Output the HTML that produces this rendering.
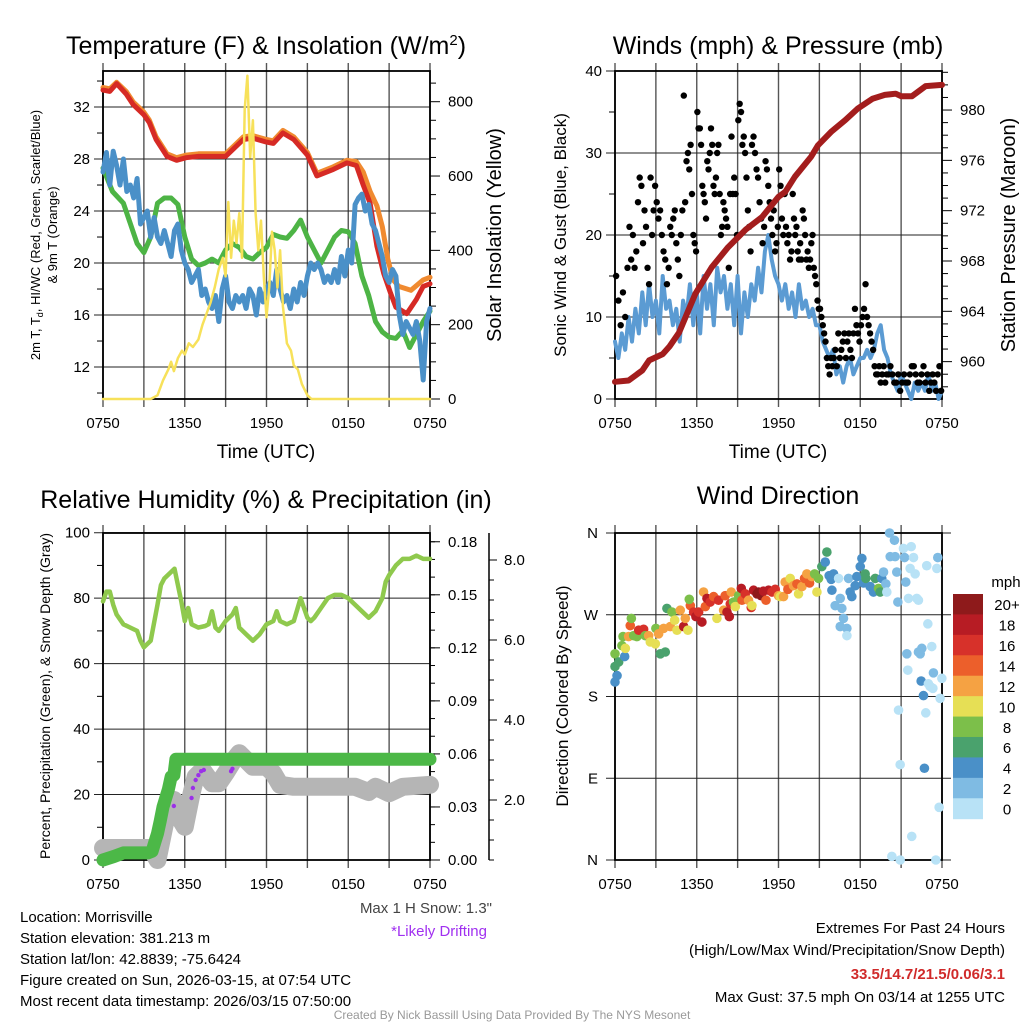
<!DOCTYPE html>
<html><head><meta charset="utf-8"><style>
html,body{margin:0;padding:0;background:#fff;}
svg{display:block;font-family:"Liberation Sans",sans-serif;}
</style></head><body>
<svg id="chart" width="1024" height="1024" viewBox="0 0 1024 1024" xmlns="http://www.w3.org/2000/svg">
<g id="g"></g>
</svg>
<script>
// ---------- DATA ----------
const xTickLabels = ["0750","1350","1950","0150","0750"];
// Panel 1 temperatures (hours since 0750, value F)
const redHours = [0,0.5,1,1.7,2.2,3,3.4,3.9,4.7,5.4,6.1,7,8,9,9.6,10.3,11,12,12.5,13.2,14,15,15.7,16.9,17.9,18.6,19.1,19.6,20.1,20.6,21.1,21.5,22.3,23,23.5,24];
const redTemp  = [33.3,33.2,33.8,33.0,32.2,31.4,30.8,29.5,28.2,27.9,28.1,28.2,28.2,28.2,28.8,29.5,29.6,29.3,29.2,30.0,29.5,28.3,26.7,27.2,27.7,27.5,26.0,24.6,21.3,19.2,17.7,16.6,16.1,17.2,18.2,18.4];
const orangeHours = [0,0.5,1,1.7,2.2,3,3.4,3.9,4.7,5.4,6.1,7,8,9,9.6,10.3,11,12,12.5,13.2,14,15,15.7,16.9,17.9,18.6,19.1,19.6,20.1,20.5,20.9,21.3,21.7,22.6,23.5,24];
const orangeTemp  = [33.5,33.4,33.9,33.2,32.4,31.6,31.0,29.7,28.4,28.1,28.3,28.4,28.4,28.4,29.0,29.7,29.8,29.5,29.4,30.2,29.7,28.5,26.9,27.4,27.9,27.8,27.0,25.5,24.4,22.8,20.3,18.7,18.2,17.9,18.7,18.9];
const blueTemp = [27,28.5,26,28.6,27.5,26,28,25.5,26,25,26.5,23,23.5,24,22,23.5,22,21.5,22.5,21.5,20.5,22.5,23,21,20,19.5,18.5,19,19.5,17.5,18,17,16.5,17.5,15.5,18,19,17,16.5,17.5,17,17.5,16.5,18,17.5,16,18,17,18,18.5,17.5,19.5,18,17,17.5,16.5,18,17,18.5,17.5,19,20,19.5,20,19.5,18.5,19,18.5,19.5,18.5,20.5,19,21,20,24.5,25,25.3,24,24.5,23,22.5,21.5,20.5,19,18.5,19.5,19,16,14.5,15.5,15,14.5,15.5,14,11,15.5,16.5];
const greenHours = [0,0.7,1.5,2.5,3,3.5,4,4.5,5,5.5,6,6.5,7,7.5,8,8.5,9,9.5,10,10.5,11,11.5,12,12.5,13,13.5,14,14.5,15,15.5,16,16.5,17,17.5,18,18.5,19,19.5,20,20.5,21,21.5,22,22.5,23,23.5,24];
const greenTemp  = [27.3,25.5,24.6,21.5,20.8,22,24.6,25,25,24.5,22,20.3,19.8,20,20.3,20,21,21.5,21.2,20.5,20.3,20.8,21.2,22.2,22,21.9,22.5,23.3,22,21,20,21,22,22.5,22.4,21.5,19,17.5,15.5,14.7,14.3,14.2,14.8,13.5,14.5,15.5,16.3];
const solarHours = [0,3.5,4,4.4,4.8,5,5.2,5.5,5.8,6,6.3,6.6,7,7.3,7.6,7.9,8.2,8.5,8.8,9,9.2,9.4,9.6,9.8,10,10.2,10.4,10.6,10.8,11,11.2,11.4,11.6,11.8,12,12.2,12.4,12.6,12.8,13,13.2,13.5,13.8,14,14.3,14.6,15,15.3,24];
const solarVals  = [0,0,10,50,80,100,75,110,130,120,150,140,160,200,230,260,300,350,380,330,530,380,480,420,500,380,780,870,650,750,500,400,480,330,220,300,450,400,300,400,250,150,130,90,80,40,10,0,0];
const solarTicks = [0,200,400,600,800];
const tempTicks = [12,16,20,24,28,32];
// Panel 2
const windTicks = [0,10,20,30,40];
const presTicks = [960,964,968,972,976,980];
const sonicWind = [7,5,8,6,10,7,11,8,13,9,14,10,12,8,15,11,12,9,11,7,12,10,14,9,13,8,15,11,14,9,16,13,15,11,14,9,15,8,13,10,14,12,16,13,18,20,17,15,14,12,14,11,13,10,14,11,12,10,11,9,9,7,6,5,6,3,4,2,4,5,3,4,5,5,6,5,6,8,9,6,5,3,2,1,3,2,1,0,2,1,2,1,3,1,2,0,1];
const gustByHour = [[15,12,9,13,10,16],[21,17,20,16,18,24,27,26],[19,23,21,16,14,27,20,23,26],[24,22,23,20,18,17,14,16],[21,20,22,23,19,17,15,20,23],[37,24,29,30,28,31,25,20,19,18],[35,33,33,31,26,25,24,22,29,28,30],[33,31,26,25,27,30,31,25,20,21,24],[23,22,21,16,25,32,25,27,25,20],[34,36,35,31,32,30,27,23,21,18],[31,32,30,28,27,24,22,19,21],[29,28,26,24,22,20,23,18,19,21],[28,26,22,20,25,21,19,20,17,18],[25,22,20,21,18,17,19,17,23,22,20],[17,18,16,17,19,20,16,15,14,12,11],[11,10,9,8,7,5,4,3,5,4],[5,6,4,8,5,6,7,8,5],[7,8,6,5,8,11,9,8,7],[9,10,11,14,10,9,8,7,6],[4,3,3,4,2,3,4,2,3],[3,4,3,2,2,3,1],[2,3,2,2,3,4,4],[3,2,2,3,4,2,3],[1,2,3,2,1,3,4,1]];
const presHours = [0,1,2,2.5,3.5,4,4.7,5.9,7.1,8.3,9.6,10.8,12,12.5,13.2,14.4,14.9,15.9,16.9,17.8,18.9,19.8,20.6,21,21.8,22.8,24];
const presVals  = [958.4,958.5,959.3,960.1,960.6,961.2,962.3,965.4,967.5,969.1,970.5,971.5,973.1,973.5,974.7,976.3,977.2,978.3,979.2,980.1,980.9,981.2,981.3,981.1,981.1,981.9,982.0];
// Panel 3
const rhTicks = [0,20,40,60,80,100];
const precipTicks = ["0.00","0.03","0.06","0.09","0.12","0.15","0.18"];
const snowTicks = ["2.0","4.0","6.0","8.0"];
const rhHours = [0,0.25,0.5,0.75,1,1.5,2,2.5,2.75,3,3.5,4,4.25,4.5,5,5.25,5.5,5.75,6,6.25,6.5,7,7.5,7.75,8,8.25,8.5,9,9.5,9.75,10,10.5,11,11.5,12,12.5,12.75,13,13.5,14,14.5,15,15.25,15.5,16,16.5,17,17.5,18,18.5,19,19.5,20,20.5,20.75,21,21.5,22,22.5,23,23.5,24];
const rhVals  = [79,82,82,78,75,72,71,70,67,65,67,78,84,86,88,89,84,79,73,77,72,71,71.5,72,76,71,70,73,75,77,71,69,67,69,72,73,76,73,72,73,80,74,73,74,77,80,81,81,80,78,76,74,76,80,85,87,90,92,92,93,92,92];
const precipHours = [0,0.8,1.5,3.3,3.6,3.8,4,4.2,4.4,4.6,4.8,5,5.2,5.35,24];
const precipVals  = [0,0.002,0.004,0.004,0.005,0.01,0.015,0.022,0.03,0.035,0.04,0.047,0.048,0.057,0.057];
const snowHours = [0,3.5,4.0,4.6,5.2,5.7,6,6.5,6.8,7.3,8,8.5,9,9.6,10,11,12,12.5,13,14,18.5,19.5,20,21,22,24];
const snowVals  = [0.8,0.8,0.5,1.5,2.0,1.5,1.33,2.17,2.58,2.75,2.42,2.42,2.67,3.0,3.17,2.83,2.83,2.67,2.38,2.33,2.33,2.2,2.33,2.17,2.33,2.38];
const driftHours = [5.2,6.5,6.6,6.8,7.0,7.2,7.4,9.4,9.5];
const driftVals  = [1.85,2.05,2.3,2.5,2.62,2.72,2.75,2.72,2.78];
// Panel 4
const dirTicks = ["N","W","S","E","N"];
const speedBins = ["20+","18","16","14","12","10","8","6","4","2","0"];
const dirHours = [0,0.15,0,0,0.27,0.71,0.51,0.59,0.76,1.0,1.12,1.2,1.37,1.61,1.74,2.1,2.22,2.47,2.59,2.96,3.0,3.2,3.33,3.69,3.57,3.81,4.06,4.18,4.38,4.55,4.79,5.04,5.16,5.35,5.53,5.45,5.77,5.94,6.14,6.38,6.5,6.63,6.75,6.99,7.24,7.48,7.6,7.97,8.09,8.22,8.39,8.46,8.53,8.7,8.83,9.07,9.27,9.32,9.56,9.8,10.0,10.05,10.17,10.42,10.54,10.73,10.9,11.08,11.27,11.52,11.76,12.0,12.13,12.37,12.49,12.69,12.86,13.1,13.35,13.47,13.72,13.91,14.08,14.28,14.45,14.65,14.82,14.94,15.18,15.55,15.43,15.72,15.87,16.04,15.92,16.16,16.41,16.53,16.65,16.77,16.53,17.02,17.02,17.14,17.26,17.38,17.63,17.75,18.0,18.12,18.24,18.36,18.41,18.73,18.97,19.1,19.34,19.46,19.58,19.71,19.88,19.95,20.15,20.2,20.51,20.56,20.68,20.76,20.81,20.32,20.93,20.93,21.17,21.25,21.34,21.42,21.49,21.54,21.66,21.74,21.78,21.91,22.03,22.15,22.27,22.27,22.4,22.52,22.47,22.64,22.71,22.81,22.88,22.96,23.0,23.13,23.25,23.33,23.37,23.55,23.62,23.69,23.79,23.86,23.99];
const dirDeg = [196,203,213,227,218,224,236,246,233,246,258,266,247,246,253,254,247,247,240,238,255,249,227,229,255,277,257,273,264,253,275,257,266,253,280,287,273,268,273,262,295,279,288,284,290,266,286,275,291,273,268,282,295,284,279,291,299,286,293,286,278,280,297,293,295,291,296,286,297,295,298,291,290,290,306,298,310,302,304,293,301,310,315,305,312,315,295,310,323,339,328,313,309,315,297,280,310,288,277,266,257,255,247,310,295,290,302,312,323,332,305,315,310,301,295,310,299,295,310,317,304,295,360,334,352,334,317,284,165,4,0,105,343,333,306,227,209,288,321,345,26,333,315,288,286,229,227,233,197,181,101,162,324,260,194,191,235,189,206,0,321,333,58,178,200];
const dirSpd = [4,4,6,8,6,4,8,8,10,12,14,8,8,8,16,16,8,12,10,10,8,12,6,6,12,6,12,8,10,10,12,18,12,10,14,8,16,18,16,18,12,14,18,16,14,10,16,12,14,18,18,16,12,8,10,8,18,14,16,12,16,10,18,20,20,20,18,14,18,16,16,12,10,12,12,14,10,12,14,10,12,14,12,14,12,8,10,8,6,6,4,4,4,4,4,2,0,2,2,2,2,2,0,2,4,4,4,4,4,4,4,6,6,4,4,6,8,6,4,2,2,0,2,2,2,2,2,2,0,0,0,0,0,2,2,2,0,0,0,0,0,0,0,0,0,2,2,2,4,4,4,0,0,0,0,0,0,0,2,0,0,2,0,0,0];

// ---------- DRAW ----------
const NS="http://www.w3.org/2000/svg";
const root=document.getElementById('g');
function el(tag,attrs,parent){const e=document.createElementNS(NS,tag);for(const k in attrs)e.setAttribute(k,attrs[k]);(parent||root).appendChild(e);return e;}
function txt(s,attrs,parent){const e=el('text',attrs,parent);e.textContent=s;return e;}
const L1=103,R1=430,L2=615,R2=942,T1=71,B1=399,T2=533,B2=860,W=327;
const Xh=(L,h)=>L+h*W/24;
const Y1=t=>399-(t-9.54)*13, YS=s=>399-s*297.3/800;
const YW=w=>399-w*8.2, YP=p=>399-(p-957.03)*12.58;
const Y3=r=>860-r*3.273, YPr=p=>860-p*1768, YD=d=>880-d*40;
const YDir=d=>860-d*327/360;
const spdColors=["#8e1a1b","#b71c24","#d7312a","#ec5f2b","#f5a243","#e6df55","#7cbf4a","#4aa26d","#4a90c8","#7fbbe3","#b8e2f6"];
function spdColor(s){const i=s>=20?0:10-Math.floor(s/2);return spdColors[Math.max(0,Math.min(10,i))];}

function frame(L,T,B,name){
  const g=el('g',{});
  
  
  for(let i=0;i<=8;i++){const x=Xh(L,i*3);
    const v=el('line',{x1:x,x2:x,y1:T-8,y2:B+8,stroke:'#555','stroke-width':1.4},g);
    
    
  }
  xTickLabels.forEach((s,i)=>{const t=txt(s,{x:Xh(L,i*6),y:B+29,'font-size':15,'text-anchor':'middle'},g);
    
    });
  return g;
}
function hgrid(g,L,y,len){const l=el('line',{x1:L-9,x2:L+W+(len||0),y1:y,y2:y,stroke:'#222','stroke-width':1},g);
  
  }
function border(g,L,T,B){const r=el('rect',{x:L,y:T,width:W,height:B-T,fill:'none',stroke:'#000','stroke-width':1.8},g);
  
  }
function poly(xs,ys,attrs,name){const pts=xs.map((x,i)=>x.toFixed(1)+','+ys[i].toFixed(1)).join(' ');
  const p=el('polyline',Object.assign({points:pts,fill:'none','stroke-linejoin':'round','stroke-linecap':'round'},attrs));
  
  return p;}
function rotText(s,x,y,size,name,fill){const t=txt(s,{x:x,y:y,'font-size':size,'text-anchor':'middle',transform:`rotate(-90 ${x} ${y})`,fill:fill||'#000'});
  
  return t;}
function title(s,x,y,name){const t=txt(s,{x:x,y:y,'font-size':25,'text-anchor':'middle'});
  
  return t;}

// ===== Panel 1 =====
let g=frame(L1,T1,B1,'temperature');
tempTicks.forEach(v=>{const y=Y1(v);hgrid(g,L1,y);
  const t=txt(String(v),{x:L1-13,y:y+5,'font-size':15,'text-anchor':'end'},g);
  
  });
for(let v=10;v<=34;v+=2){if(v%4)el('line',{x1:L1-6,x2:L1,y1:Y1(v),y2:Y1(v),stroke:'#000'},g);}
solarTicks.forEach(v=>{const y=YS(v);el('line',{x1:R1,x2:R1+10,y1:y,y2:y,stroke:'#000'},g);
  const t=txt(String(v),{x:R1+18,y:y+5,'font-size':15},g);
  
  });
for(let v=50;v<=850;v+=50){if(v%200)el('line',{x1:R1,x2:R1+6,y1:YS(v),y2:YS(v),stroke:'#000'},g);}
border(g,L1,T1,B1);
poly(orangeHours.map(h=>Xh(L1,h)),orangeTemp.map(Y1),{stroke:'#f08a30','stroke-width':5},'temp-9m-line');
poly(redHours.map(h=>Xh(L1,h)),redTemp.map(Y1),{stroke:'#d62a25','stroke-width':5},'temp-2m-line');
poly(greenHours.map(h=>Xh(L1,h)),greenTemp.map(Y1),{stroke:'#4db445','stroke-width':5},'dewpoint-line');
poly(blueTemp.map((v,i)=>Xh(L1,i*0.25)),blueTemp.map(Y1),{stroke:'#4a90c8','stroke-width':5},'windchill-line');
poly(solarHours.map(h=>Xh(L1,h)),solarVals.map(YS),{stroke:'#f7e15a','stroke-width':2.5},'solar-line');
title('',266,54,'temp-title').innerHTML='Temperature (F) &amp; Insolation (W/m<tspan dy="-9" font-size="15">2</tspan><tspan dy="9">)</tspan>';
rotText('2m T, T',40,235,13,'temp-y-title').innerHTML='2m T, T<tspan dy="3" font-size="9">d</tspan><tspan dy="-3">, HI/WC (Red, Green, Scarlet/Blue)</tspan>';
rotText('& 9m T (Orange)',57,235,13,'temp-y-title-2');
rotText('Solar Insolation (Yellow)',501,235,20,'solar-y-title');
let t=txt('Time (UTC)',{x:266,y:458,'font-size':19,'text-anchor':'middle'});



// ===== Panel 2 =====
g=frame(L2,T1,B1,'wind');
windTicks.forEach(v=>{const y=YW(v);hgrid(g,L2,y);
  const t=txt(String(v),{x:L2-13,y:y+5,'font-size':15,'text-anchor':'end'},g);
  
  });
for(let v=5;v<40;v+=10)el('line',{x1:L2-6,x2:L2,y1:YW(v),y2:YW(v),stroke:'#000'},g);
presTicks.forEach(v=>{const y=YP(v);el('line',{x1:R2,x2:R2+10,y1:y,y2:y,stroke:'#000'},g);
  const t=txt(String(v),{x:R2+18,y:y+5,'font-size':15},g);
  
  });
for(let v=958;v<=983;v+=1){if((v-960)%4)el('line',{x1:R2,x2:R2+6,y1:YP(v),y2:YP(v),stroke:'#000'},g);}
border(g,L2,T1,B1);
poly(sonicWind.map((v,i)=>Xh(L2,i*0.25)),sonicWind.map(YW),{stroke:'#5b9bd3','stroke-width':4},'sonic-wind-line');
gustByHour.forEach((arr,hr)=>arr.forEach((v,j)=>{
  const c=el('circle',{cx:Xh(L2,hr+(j+0.5)/arr.length),cy:YW(v),r:3.2,fill:'#000'});
  
  
}));
poly(presHours.map(h=>Xh(L2,h)),presVals.map(YP),{stroke:'#a31d1d','stroke-width':6},'pressure-line');
title('Winds (mph) & Pressure (mb)',778,54,'wind-title');
rotText('Sonic Wind & Gust (Blue, Black)',566,235,17,'wind-y-title');
rotText('Station Pressure (Maroon)',1015,235,20,'pressure-y-title');
t=txt('Time (UTC)',{x:778,y:458,'font-size':19,'text-anchor':'middle'});



// ===== Panel 3 =====
g=frame(L1,T2,B2,'humidity');
rhTicks.forEach(v=>{const y=Y3(v);hgrid(g,L1,y);
  const t=txt(String(v),{x:L1-13,y:y+5,'font-size':15,'text-anchor':'end'},g);
  
  });
for(let v=10;v<100;v+=20)el('line',{x1:L1-6,x2:L1,y1:Y3(v),y2:Y3(v),stroke:'#000'},g);
precipTicks.forEach(s=>{const y=YPr(parseFloat(s));el('line',{x1:R1,x2:R1+10,y1:y,y2:y,stroke:'#000'},g);
  const t=txt(s,{x:R1+18,y:y+5,'font-size':15},g);
  
  });
for(let v=0.01;v<0.185;v+=0.01){el('line',{x1:R1,x2:R1+5,y1:YPr(v),y2:YPr(v),stroke:'#000'},g);}
el('line',{x1:489,x2:489,y1:533,y2:860,stroke:'#000','stroke-width':1.5},g);
snowTicks.forEach(s=>{const y=YD(parseFloat(s));el('line',{x1:489,x2:497,y1:y,y2:y,stroke:'#000'},g);
  const t=txt(s,{x:504,y:y+5,'font-size':15},g);
  
  });
for(let v=0.5;v<8.5;v+=0.5){if(v%2)el('line',{x1:489,x2:494,y1:YD(v),y2:YD(v),stroke:'#000'},g);}
border(g,L1,T2,B2);
poly(snowHours.map(h=>Xh(L1,h)),snowVals.map(YD),{stroke:'#b5b5b5','stroke-width':18},'snow-depth-line');
driftHours.forEach((h,i)=>{const c=el('circle',{cx:Xh(L1,h),cy:YD(driftVals[i]),r:2.2,fill:'#9b30e8'});
  
  });
poly(precipHours.map(h=>Xh(L1,h)),precipVals.map(YPr),{stroke:'#4cb847','stroke-width':13},'precip-line');
poly(rhHours.map(h=>Xh(L1,h)),rhVals.map(Y3),{stroke:'#8fc94d','stroke-width':4.5},'rh-line');
title('Relative Humidity (%) & Precipitation (in)',266,508,'rh-title');
rotText('Percent, Precipitation (Green), & Snow Depth (Gray)',50,696,14,'rh-y-title');

// ===== Panel 4 =====
g=frame(L2,T2,B2,'direction');
dirTicks.forEach((s,i)=>{const y=YDir(360-i*90);hgrid(g,L2,y,9);
  const t=txt(s,{x:L2-17,y:y+5,'font-size':15,'text-anchor':'end'},g);
  
  });
border(g,L2,T2,B2);
dirHours.forEach((h,i)=>{const c=el('circle',{cx:Xh(L2,h),cy:YDir(dirDeg[i]),r:4.8,fill:spdColor(dirSpd[i])});
  
  });
title('Wind Direction',778,504,'direction-title');
rotText('Direction (Colored By Speed)',568,696,17,'direction-y-title');
// colorbar
const cbT=594,cbH=(818.7-594)/11;
speedBins.forEach((s,i)=>{
  const r=el('rect',{x:953,y:cbT+i*cbH,width:30,height:cbH+0.5,fill:spdColors[i]});
  
  
  const t=txt(s,{x:1007,y:cbT+i*cbH+cbH/2+6,'font-size':15,'text-anchor':'middle'});
  
  
});
t=txt('mph',{x:1006,y:587,'font-size':15,'text-anchor':'middle'});



// ===== Footer =====
const leftLines=["Location: Morrisville","Station elevation: 381.213 m","Station lat/lon: 42.8839; -75.6424","Figure created on Sun, 2026-03-15, at 07:54 UTC","Most recent data timestamp: 2026/03/15 07:50:00"];
leftLines.forEach((s,i)=>{const t=txt(s,{x:20,y:922+i*21,'font-size':15});
  
  });
t=txt('Max 1 H Snow: 1.3"',{x:492,y:913,'font-size':15,'text-anchor':'end',fill:'#444'});


t=txt('*Likely Drifting',{x:487,y:936,'font-size':15,'text-anchor':'end',fill:'#a030f0'});


const rightLines=[["Extremes For Past 24 Hours",933,'#000','normal'],["(High/Low/Max Wind/Precipitation/Snow Depth)",955,'#000','normal'],["33.5/14.7/21.5/0.06/3.1",979,'#d02a2a','bold'],["Max Gust: 37.5 mph On 03/14 at 1255 UTC",1002,'#000','normal']];
rightLines.forEach(r=>{const t=txt(r[0],{x:1005,y:r[1],'font-size':15,'text-anchor':'end',fill:r[2],'font-weight':r[3]});
  
  });
t=txt('Created By Nick Bassill Using Data Provided By The NYS Mesonet',{x:512,y:1019,'font-size':12,'text-anchor':'middle',fill:'#999'});


</script>
</body></html>
